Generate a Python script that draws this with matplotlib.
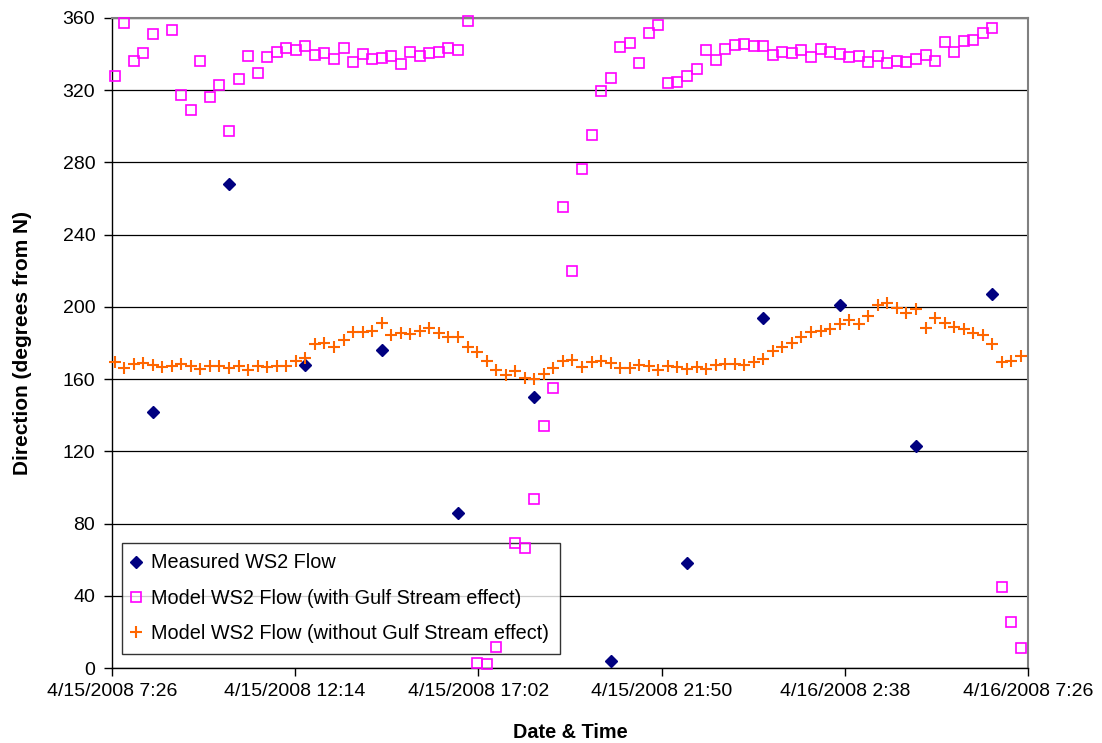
from datetime import datetime, timedelta

import matplotlib
matplotlib.use("Agg")
import matplotlib.pyplot as plt
import numpy as np
import pandas as pd

plt.rcParams["font.family"] = ["Liberation Sans", "DejaVu Sans"]

# 15-minute model output and 2-hourly measurements at station WS2.
model_times = pd.date_range("2008-04-15 07:30", periods=96, freq="15min")
measured_times = pd.date_range("2008-04-15 08:30", periods=12, freq="2h")

measured_dir = [142, 268, 168, 176, 86, 150, 4, 58, 194, 201, 123, 207]

model_gulf = [
    328.0, 357.0, 336.3, 340.5, 351.0, np.nan, 353.3, 317.3, 308.8, 335.9,
    316.3, 322.8, 297.5, 326.3, 338.7, 329.5, 338.3, 341.1, 343.5, 342.5,
    344.4, 339.4, 340.4, 337.2, 343.6, 335.4, 339.8, 337.4, 337.9, 338.7,
    334.6, 341.3, 338.9, 340.6, 341.2, 343.1, 342.4, 358.6, 2.8, 2.4,
    11.4, np.nan, 69.1, 66.5, 93.7, 134.3, 155.1, 255.5, 220.1, 276.4,
    295.3, 319.8, 327.0, 344.0, 345.9, 335.0, 351.8, 356.2, 323.9, 324.8,
    327.6, 331.6, 342.2, 336.6, 342.9, 344.8, 345.7, 344.3, 344.4, 339.4,
    340.9, 340.5, 342.4, 338.3, 342.6, 341.4, 340.1, 338.3, 339.2, 335.4,
    339.0, 335.2, 335.9, 335.5, 337.2, 339.4, 336.3, 346.6, 341.1, 347.2,
    347.9, 351.8, 354.7, 44.8, 25.5, 11.1,
]

model_no_gulf = [
    169.4, 165.9, 168.3, 168.9, 167.8, 166.7, 167.4, 168.5, 167.0, 165.4,
    167.0, 167.2, 166.3, 167.0, 164.8, 167.4, 166.5, 167.0, 167.4, 169.8,
    171.8, 179.4, 180.1, 177.7, 181.6, 186.0, 186.0, 186.6, 191.0, 184.4,
    185.7, 184.9, 186.8, 188.4, 185.7, 183.4, 183.4, 177.9, 175.0, 170.2,
    165.2, 162.2, 164.5, 160.8, 160.0, 163.0, 165.9, 170.0, 170.5, 166.5,
    169.4, 170.0, 169.1, 165.9, 165.9, 167.8, 167.0, 165.0, 167.0, 166.5,
    165.4, 166.7, 165.7, 167.8, 168.1, 168.5, 167.9, 169.4, 171.3, 175.7,
    177.9, 179.8, 183.1, 185.9, 186.6, 187.5, 190.3, 192.5, 190.7, 194.9,
    200.8, 201.9, 199.5, 196.6, 198.6, 188.1, 193.8, 190.9, 189.0, 187.9,
    185.5, 184.2, 179.4, 169.3, 170.2, 172.6,
]

tick_labels = [
    "4/15/2008 7:26", "4/15/2008 12:14", "4/15/2008 17:02",
    "4/15/2008 21:50", "4/16/2008 2:38", "4/16/2008 7:26",
]

t0 = datetime(2008, 4, 15, 7, 26)
tick_pos = [t0 + k * timedelta(hours=4.8) for k in range(len(tick_labels))]

fig = plt.figure(figsize=(11.02, 7.43), dpi=100)
ax = fig.add_axes([0.1016, 0.1009, 0.8312, 0.8749])

fs = 14

ax.plot(measured_times, measured_dir, linestyle="none", marker="D",
        markersize=6.5, color="#000080", label="Measured WS2 Flow",
        clip_on=False, zorder=3)
ax.plot(model_times, model_gulf, linestyle="none", marker="s",
        markersize=6.8, markerfacecolor="none", markeredgecolor="#FF00FF",
        markeredgewidth=1.2,
        label="Model WS2 Flow (with Gulf Stream effect)",
        clip_on=False, zorder=3)
ax.plot(model_times, model_no_gulf, linestyle="none", marker="+",
        markersize=8, markeredgewidth=1.5, color="#FF6600",
        label="Model WS2 Flow (without Gulf Stream effect)",
        clip_on=False, zorder=3)

ax.set_xlim(tick_pos[0], tick_pos[-1])
ax.set_ylim(0, 360)
ax.set_yticks(np.arange(0, 361, 40))
ax.set_xticks(tick_pos)
ax.set_xticklabels(tick_labels)
ax.tick_params(axis="both", direction="out", length=6, width=1,
               labelsize=fs, color="black")
ax.tick_params(axis="x", pad=5)
ax.tick_params(axis="y", pad=6)

ax.yaxis.grid(True, color="black", linewidth=0.9)
ax.set_axisbelow(True)
for side in ("top", "right"):
    ax.spines[side].set_color("#808080")
    ax.spines[side].set_linewidth(1.5)
for side in ("left", "bottom"):
    ax.spines[side].set_color("black")
    ax.spines[side].set_linewidth(1.0)

ax.set_xlabel("Date & Time", fontsize=14.3, fontweight="bold", labelpad=16)
ax.set_ylabel("Direction (degrees from N)", fontsize=15, fontweight="bold",
              labelpad=22)

leg = ax.legend(loc="upper left", bbox_to_anchor=(0.011, 0.193),
                fontsize=14.3, frameon=True, fancybox=False, borderpad=0.55,
                labelspacing=0.82, handletextpad=0.6, handlelength=0.3,
                borderaxespad=0)
leg.get_frame().set_edgecolor("black")
leg.get_frame().set_linewidth(1.0)
leg.set_zorder(2.5)

fig.savefig("out.png", dpi=100)
